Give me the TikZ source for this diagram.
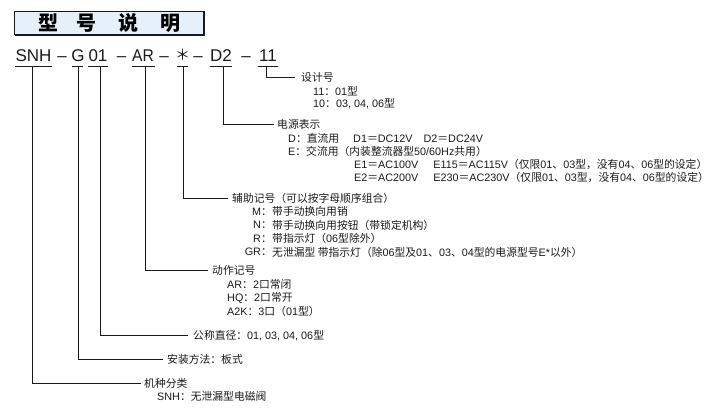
\documentclass[tikz,border=0pt]{standalone}
\usepackage{fontspec}
\setmainfont{Liberation Sans}
\newfontfamily\cjk{Noto Sans CJK SC}
\newcommand\zh[1]{{\cjk #1}}
\definecolor{titlefill}{HTML}{E6F0FA}
\definecolor{ink}{HTML}{1A1A1A}
\tikzset{
  lbl/.style={anchor=west, inner sep=0pt, text=ink, font=\fontsize{10.8}{12}\selectfont},
  key/.style={anchor=east, inner sep=0pt, text=ink, font=\fontsize{10.8}{12}\selectfont},
  code/.style={anchor=base, inner sep=0pt, text=ink, font=\fontsize{17}{20}\selectfont},
  ttl/.style={anchor=center, inner sep=0pt, font=\cjk\bfseries\fontsize{20}{22}\selectfont},
  conn/.style={draw=ink, line width=0.7pt},
}
\begin{document}
\begin{tikzpicture}[x=1pt,y=-1pt]
\useasboundingbox (0,0) rectangle (712,411);
% title box
\fill[titlefill] (14,11) rectangle (203,34);
\draw[ink, line width=0.6pt] (14,11) rectangle (203,34);
\draw[ink, line width=2pt] (204,11.5) -- (204,35) -- (15,35);
\node[ttl] (t1) at (48,23) {型};
\node[ttl] (t2) at (86,23) {号};
\node[ttl] (t3) at (128,23) {说};
\node[ttl] (t4) at (170,23) {明};
% code line
\node[code] (snh) at (33.5,61.5) {SNH};
\node[code] (d1) at (62,61.5) {–};
\node[code] (g) at (78,61.5) {G};
\node[code] (n01) at (98,61.5) {01};
\node[code] (d2) at (121.5,61.5) {–};
\node[code, xscale=0.92] (ar) at (143,61.5) {AR};
\node[code] (d3) at (164,61.5) {–};
\node[anchor=center, inner sep=0pt, text=ink, font=\cjk\fontsize{15}{16}\selectfont] (ast) at (182.5,55) {＊};
\node[code] (d4) at (198,61.5) {–};
\node[code] (dd) at (221,61.5) {D2};
\node[code] (d5) at (246,61.5) {–};
\node[code] (n11) at (268,61.5) {11};
% underlines
\draw[conn] (15,66.5) -- (52,66.5);
\draw[conn] (72,66.5) -- (83,66.5);
\draw[conn] (88,66.5) -- (108,66.5);
\draw[conn] (132,66.5) -- (155,66.5);
\draw[conn] (177,66.5) -- (188,66.5);
\draw[conn] (210,66.5) -- (232,66.5);
\draw[conn] (258,66.5) -- (278,66.5);
\coordinate (u11) at (266,66.5);
\coordinate (udd) at (223,66.5);
\coordinate (uast) at (183,66.5);
\coordinate (uar) at (145,66.5);
\coordinate (u01) at (100,66.5);
\coordinate (ug) at (78,66.5);
\coordinate (usnh) at (32.5,66.5);
% design number
\node[lbl] (sj) at (301,77) {\zh{设计号}};
\node[lbl] (sj1) at (313,91) {11\zh{：}01\zh{型}};
\node[lbl] (sj2) at (313,104) {10\zh{：}03, 04, 06\zh{型}};
\draw[conn] (u11) |- ([xshift=-6pt]sj.west);
% power
\node[lbl] (dy) at (277,124) {\zh{电源表示}};
\node[lbl] (dyD) at (288,138) {D\zh{：直流用}\hspace{14pt}D1\zh{＝}DC12V\hspace{11pt}D2\zh{＝}DC24V};
\node[lbl] (dyE) at (288,151) {E\zh{：交流用（内装整流器型}50/60Hz\zh{共用）}};
\node[lbl] (dyE1) at (354,164.5) {E1\zh{＝}AC100V\hspace{15pt}E115\zh{＝}AC115V\zh{（仅限}01\zh{、}03\zh{型，没有}04\zh{、}06\zh{型的设定）}};
\node[lbl] (dyE2) at (354,177.5) {E2\zh{＝}AC200V\hspace{15pt}E230\zh{＝}AC230V\zh{（仅限}01\zh{、}03\zh{型，没有}04\zh{、}06\zh{型的设定）}};
\draw[conn] (udd) |- ([xshift=-3pt]dy.west);
% auxiliary
\node[lbl] (fz) at (232,198) {\zh{辅助记号（可以按字母顺序组合）}};
\node[key] (kM) at (272,211.5) {M\zh{：}};
\node[lbl] (fzM) at (272,211.5) {\zh{带手动换向用销}};
\node[key] (kN) at (272,225) {N\zh{：}};
\node[lbl] (fzN) at (272,225) {\zh{带手动换向用按钮（带锁定机构）}};
\node[key] (kR) at (272,238.5) {R\zh{：}};
\node[lbl] (fzR) at (272,238.5) {\zh{带指示灯（}06\zh{型除外）}};
\node[key] (kGR) at (272,252) {GR\zh{：}};
\node[lbl] (fzGR) at (272,252) {\zh{无泄漏型 带指示灯（除}06\zh{型及}01\zh{、}03\zh{、}04\zh{型的电源型号}E*\zh{以外）}};
\draw[conn] (uast) |- ([xshift=-4pt]fz.west);
% action
\node[lbl] (dz) at (212,270) {\zh{动作记号}};
\node[lbl] (dz1) at (227,284) {AR\zh{：}2\zh{口常闭}};
\node[lbl] (dz2) at (227,297.5) {HQ\zh{：}2\zh{口常开}};
\node[lbl] (dz3) at (227,311) {A2K\zh{：}3\zh{口（}01\zh{型）}};
\draw[conn] (uar) |- ([xshift=-4pt]dz.west);
% nominal diameter
\node[lbl] (gc) at (193,335.5) {\zh{公称直径：}01, 03, 04, 06\zh{型}};
\draw[conn] (u01) |- ([xshift=-5pt]gc.west);
% mounting
\node[lbl] (az) at (167,359) {\zh{安装方法：板式}};
\draw[conn] (ug) |- ([xshift=-4pt]az.west);
% type
\node[lbl] (jz) at (144,383) {\zh{机种分类}};
\node[lbl] (jz1) at (157,396.5) {SNH\zh{：无泄漏型电磁阀}};
\draw[conn] (usnh) |- ([xshift=-3pt]jz.west);
\end{tikzpicture}
\end{document}
